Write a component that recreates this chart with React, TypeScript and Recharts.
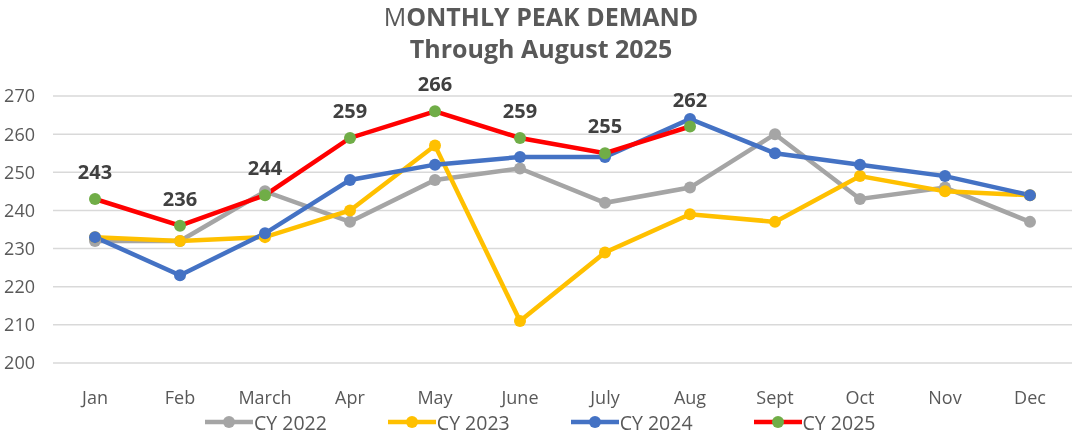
import React from 'react';
import { LineChart, Line, XAxis, YAxis, CartesianGrid, Legend, LabelList } from 'recharts';

const months = ['Jan', 'Feb', 'March', 'Apr', 'May', 'June', 'July', 'Aug', 'Sept', 'Oct', 'Nov', 'Dec'];
const cy2022 = [232, 232, 245, 237, 248, 251, 242, 246, 260, 243, 246, 237];
const cy2023 = [233, 232, 233, 240, 257, 211, 229, 239, 237, 249, 245, 244];
const cy2024 = [233, 223, 234, 248, 252, 254, 254, 264, 255, 252, 249, 244];
const cy2025 = [243, 236, 244, 259, 266, 259, 255, 262];
const yTicks = [200, 210, 220, 230, 240, 250, 260, 270];

const data = months.map((m, i) => ({
  month: m,
  cy2022: cy2022[i],
  cy2023: cy2023[i],
  cy2024: cy2024[i],
  cy2025: i < cy2025.length ? cy2025[i] : null,
}));

const FONT = '"Open Sans", sans-serif';
const TEXT = '#595959';

const legendItems = [
  { name: 'CY 2022', line: '#a5a5a5', dot: '#a5a5a5' },
  { name: 'CY 2023', line: '#ffc000', dot: '#ffc000' },
  { name: 'CY 2024', line: '#4472c4', dot: '#4472c4' },
  { name: 'CY 2025', line: '#ff0000', dot: '#70ad47' },
];

const LegendContent = () => (
  <div style={{ display: 'flex', justifyContent: 'flex-start', paddingLeft: 205, gap: 61, height: 28, alignItems: 'center' }}>
    {legendItems.map((it) => (
      <div key={it.name} style={{ display: 'flex', alignItems: 'center' }}>
        <svg width={48} height={14}>
          <line x1={0} y1={7} x2={48} y2={7} stroke={it.line} strokeWidth={4.5} />
          <circle cx={24} cy={7} r={6} fill={it.dot} />
        </svg>
        <span style={{ fontFamily: FONT, fontSize: 19.5, color: TEXT, marginLeft: 1 }}>{it.name}</span>
      </div>
    ))}
  </div>
);

const App: React.FC = () => {
  return (
    <div style={{ position: 'fixed', left: 0, top: 0, width: 1072, height: 436, background: '#fff' }}>
      <div style={{ position: 'absolute', top: 0, left: 0, width: 1072, textAlign: 'center', fontFamily: FONT, color: TEXT, fontSize: 25, fontWeight: 700, lineHeight: '32px' }}>
        <div style={{ marginLeft: 10 }}><span style={{ fontWeight: 400 }}>M</span>ONTHLY PEAK DEMAND</div>
        <div style={{ marginLeft: 10 }}>Through August 2025</div>
      </div>
      <LineChart width={1072} height={436} data={data} margin={{ top: 96, right: 0, bottom: 0, left: 0 }}>
        <CartesianGrid vertical={false} stroke="#d9d9d9" strokeWidth={1.5} />
        <XAxis dataKey="month" axisLine={false} tickLine={false} height={45} tickMargin={22}
          padding={{ left: 42, right: 42 }}
          tick={{ fontFamily: FONT, fontSize: 18, fill: TEXT }} interval={0} />
        <YAxis domain={[200, 270]} ticks={yTicks} axisLine={false} tickLine={false} width={53} tickSize={0} tickMargin={18}
          tick={{ fontFamily: FONT, fontSize: 18, fill: TEXT }} />
        <Legend verticalAlign="bottom" content={<LegendContent />} />
        <Line dataKey="cy2022" name="CY 2022" stroke="#a5a5a5" strokeWidth={4.5} dot={{ r: 6, fill: '#a5a5a5', stroke: 'none' }} isAnimationActive={false} />
        <Line dataKey="cy2023" name="CY 2023" stroke="#ffc000" strokeWidth={4.5} dot={{ r: 6, fill: '#ffc000', stroke: 'none' }} isAnimationActive={false} />
        <Line dataKey="cy2024" name="CY 2024" stroke="#4472c4" strokeWidth={4.5} dot={{ r: 6, fill: '#4472c4', stroke: 'none' }} isAnimationActive={false} />
        <Line dataKey="cy2025" name="CY 2025" stroke="#ff0000" strokeWidth={4.5} dot={{ r: 6, fill: '#70ad47', stroke: 'none' }} isAnimationActive={false}>
          <LabelList dataKey="cy2025" position="top" offset={20} style={{ fontFamily: FONT, fontSize: 20, fontWeight: 700, fill: '#404040' }} />
        </Line>
      </LineChart>
    </div>
  );
};

export default App;
